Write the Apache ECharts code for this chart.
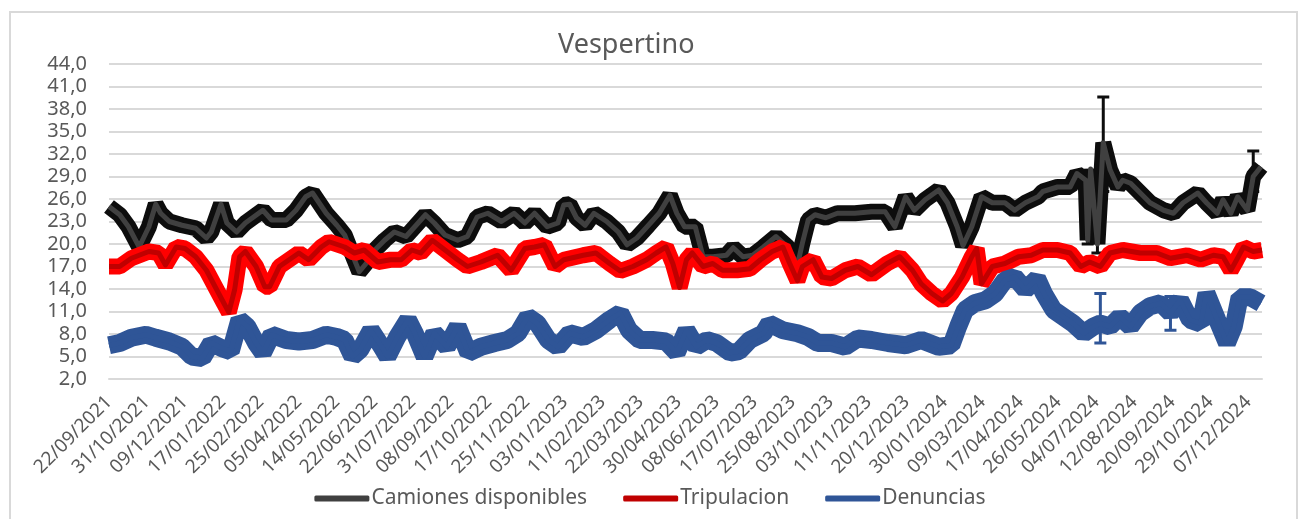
<!DOCTYPE html>
<html>
<head>
<meta charset="utf-8">
<title>Vespertino</title>
<script src="https://cdn.jsdelivr.net/npm/echarts@6/dist/echarts.min.js"></script>
<style>
  html, body { margin: 0; padding: 0; background: #fff; }
  #main { width: 1300px; height: 519px; }
</style>
</head>
<body>
<div id="main"></div>
<script>
var option;

// etiquetas del eje X (una cada 39 dias)
var tickLabels = ['22/09/2021', '31/10/2021', '09/12/2021', '17/01/2022', '25/02/2022', '05/04/2022',
    '14/05/2022', '22/06/2022', '31/07/2022', '08/09/2022', '17/10/2022', '25/11/2022', '03/01/2023',
    '11/02/2023', '22/03/2023', '30/04/2023', '08/06/2023', '17/07/2023', '25/08/2023', '03/10/2023',
    '11/11/2023', '20/12/2023', '30/01/2024', '09/03/2024', '17/04/2024', '26/05/2024', '04/07/2024',
    '12/08/2024', '20/09/2024', '29/10/2024', '07/12/2024'];
var lastDay = 1184;

// [dia, valor]
var camiones = [[0,25.0],[11,23.9],[20,22.3],[31,19.6],[41,22.3],[48,25.3],[53,24.1],[62,23.0],[75,22.5],
    [89,22.1],[100,20.8],[105,21.6],[115,25.3],[121,22.8],[131,21.6],[140,22.8],[158,24.5],[167,23.2],
    [182,23.2],[192,24.5],[202,26.3],[209,26.8],[223,24.1],[234,22.5],[242,21.2],[252,17.9],[257,16.3],
    [264,17.4],[273,19.2],[283,20.5],[293,21.6],[305,21.0],[314,22.3],[325,23.9],[334,22.8],[345,21.2],
    [358,20.5],[368,21.0],[378,23.6],[389,24.1],[403,23.0],[416,24.1],[427,22.8],[437,24.1],[450,22.3],
    [461,22.8],[467,25.2],[473,25.3],[480,23.5],[489,22.5],[498,24.1],[511,23.0],[523,21.6],[532,19.9],
    [542,20.8],[554,22.5],[565,24.1],[576,26.5],[583,24.1],[591,22.3],[602,22.3],[610,18.3],[620,18.3],
    [634,18.5],[641,19.5],[651,18.3],[661,18.5],[672,19.6],[685,21.0],[697,19.6],[707,17.2],[712,20.1],
    [718,23.2],[725,23.9],[736,23.5],[748,24.1],[766,24.1],[783,24.3],[797,24.3],[807,22.3],[818,26.3],
    [827,24.5],[838,25.9],[852,27.2],[861,25.5],[871,22.3],[877,19.8],[886,22.3],[896,26.3],[907,25.5],
    [920,25.5],[930,24.5],[941,25.5],[954,26.3],[959,27.0],[974,27.6],[987,27.6],[994,29.4],[1003,28.5],
    [1005,20.5],[1008,30.0],[1015,20.0],[1021,33.5],[1028,29.9],[1036,27.6],[1041,28.5],[1049,28.1],
    [1059,26.8],[1069,25.5],[1083,24.5],[1093,24.1],[1103,25.5],[1118,26.8],[1127,25.5],[1138,24.1],
    [1144,25.9],[1152,24.1],[1159,26.3],[1169,24.5],[1175,29.0],[1183,30.3]];

var tripulacion = [[0,17.0],[11,17.0],[23,18.1],[41,19.0],[51,18.8],[58,17.2],[69,19.6],[78,19.4],
    [89,18.3],[100,16.5],[109,14.3],[118,12.1],[123,10.9],[129,13.9],[134,18.3],[140,19.0],[151,17.0],
    [160,14.3],[165,14.3],[175,17.0],[185,17.9],[195,18.8],[205,17.9],[218,19.6],[226,20.3],[242,19.6],
    [252,18.8],[262,19.2],[276,17.6],[289,17.9],[300,17.9],[311,19.2],[320,18.8],[332,20.5],[345,19.2],
    [358,17.9],[368,17.0],[382,17.6],[399,18.5],[413,16.5],[427,19.4],[437,19.6],[447,19.9],[458,17.0],
    [467,17.9],[487,18.5],[500,18.8],[514,17.4],[525,16.4],[538,17.0],[552,17.9],[562,18.8],[572,19.6],
    [579,17.4],[586,14.2],[593,17.9],[599,18.8],[610,17.0],[620,17.4],[630,16.5],[645,16.5],[658,16.7],
    [669,17.9],[681,19.0],[692,19.6],[699,17.4],[707,15.1],[712,17.0],[723,17.9],[732,15.6],[742,15.4],
    [756,16.5],[769,17.0],[783,15.9],[799,17.4],[812,18.3],[825,16.5],[834,14.7],[845,13.4],[856,12.4],
    [865,13.4],[876,15.6],[886,18.3],[891,19.4],[896,14.7],[907,17.0],[920,17.4],[934,18.3],[947,18.5],
    [959,19.2],[974,19.2],[987,18.8],[998,17.0],[1007,17.6],[1018,17.0],[1028,18.8],[1041,19.2],
    [1059,18.8],[1076,18.8],[1090,18.1],[1107,18.5],[1121,17.9],[1134,18.5],[1144,18.3],[1152,16.5],
    [1158,17.9],[1165,19.6],[1175,19.0],[1184,19.2]];

var denuncias = [[0,6.5],[11,6.8],[23,7.5],[38,7.9],[48,7.5],[62,7.0],[75,6.3],[85,5.0],[96,4.8],
    [105,6.8],[116,6.1],[125,5.7],[134,9.9],[142,9.0],[151,6.8],[158,5.5],[167,7.9],[182,7.2],[195,7.0],
    [209,7.2],[223,7.9],[234,7.6],[242,7.2],[250,5.0],[258,5.9],[269,8.5],[280,6.3],[286,5.0],[296,7.6],
    [307,9.9],[314,8.1],[324,5.0],[334,8.1],[347,6.3],[358,9.0],[369,5.5],[382,6.3],[396,6.8],[409,7.2],
    [420,8.1],[430,10.3],[440,9.4],[451,7.2],[461,6.3],[473,8.1],[487,7.6],[500,8.5],[514,9.9],[525,10.8],
    [534,8.5],[545,7.2],[558,7.2],[572,7.0],[583,5.5],[593,8.5],[603,6.3],[614,7.2],[624,6.8],[638,5.5],
    [647,5.7],[658,7.2],[672,8.1],[678,9.4],[692,8.5],[707,8.1],[718,7.6],[728,6.8],[742,6.8],[756,6.3],
    [769,7.4],[783,7.2],[800,6.8],[818,6.5],[834,7.2],[852,6.3],[865,6.5],[872,9.0],[879,11.2],[889,12.1],
    [900,12.5],[910,13.4],[920,15.2],[930,15.6],[941,13.9],[953,15.4],[960,13.4],[970,11.2],[980,10.3],
    [990,9.4],[1001,8.1],[1011,9.0],[1018,9.4],[1028,9.0],[1038,10.3],[1049,9.0],[1059,10.8],[1069,11.7],
    [1080,12.1],[1090,10.8],[1100,12.5],[1110,9.9],[1121,9.4],[1127,13.4],[1138,9.9],[1148,6.8],[1155,9.0],
    [1161,12.9],[1172,12.9],[1183,12.1]];

// barras de error que sobresalen de la banda: [dia, minimo, maximo]
var camionesErrBig = [[1005,20.0,29.0],[1015,18.8,27.0],[1021,27.0,39.6],[1175,27.0,32.4]];
var denunciasErrBig = [[1018,6.8,13.4],[1090,8.5,13.0]];

var names = ['Camiones disponibles', 'Tripulacion', 'Denuncias'];
var lineColors = ['#404040', '#C00000', '#2F5597'];
var barColors = ['#0D0D0D', '#FF0000', '#2F5597'];

var chartDom = document.getElementById('main');
var myChart = echarts.init(chartDom, null, {renderer: 'canvas'});

function band(data, color, width) {
    return {
        type: 'line',
        name: '_band',
        data: data,
        showSymbol: false,
        silent: true,
        lineStyle: {color: color, width: width, join: 'bevel', cap: 'butt'}
    };
}

function mainLine(name, data, color) {
    return {
        type: 'line',
        name: name,
        data: data,
        showSymbol: false,
        color: color,
        lineStyle: {color: color, width: 5, join: 'round'}
    };
}

function errBars(data, color) {
    return {
        type: 'custom',
        silent: true,
        data: data,
        encode: {x: 0, y: [1, 2]},
        renderItem: function (params, api) {
            var lo = api.coord([api.value(0), api.value(1)]);
            var hi = api.coord([api.value(0), api.value(2)]);
            var st = {stroke: color, lineWidth: 3};
            return {
                type: 'group',
                children: [
                    {type: 'line', shape: {x1: lo[0], y1: lo[1], x2: hi[0], y2: hi[1]}, style: st},
                    {type: 'line', shape: {x1: lo[0] - 6, y1: lo[1], x2: lo[0] + 6, y2: lo[1]}, style: st},
                    {type: 'line', shape: {x1: hi[0] - 6, y1: hi[1], x2: hi[0] + 6, y2: hi[1]}, style: st}
                ]
            };
        }
    };
}

option = {
    animation: false,
    backgroundColor: '#fff',
    textStyle: {fontFamily: 'Noto Sans'},
    title: {
        text: 'Vespertino',
        left: 553,
        top: 27,
        textStyle: {fontFamily: 'Noto Sans', fontSize: 27, fontWeight: 'normal', color: '#595959'}
    },
    graphic: [{
        type: 'rect',
        shape: {x: 10, y: 12, width: 1287, height: 520},
        style: {fill: 'none', stroke: '#D9D9D9', lineWidth: 2},
        silent: true
    }],
    legend: {
        data: names,
        bottom: 5,
        left: 'center',
        icon: 'roundRect',
        itemWidth: 55,
        itemHeight: 6,
        itemGap: 36,
        textStyle: {fontFamily: 'Noto Sans', fontSize: 21, color: '#595959', padding: [0, 0, 0, -3]}
    },
    grid: {left: 109, right: 38, top: 64, bottom: 140, containLabel: false},
    xAxis: {
        type: 'value',
        min: 0,
        max: lastDay,
        interval: 39,
        splitLine: {show: false},
        axisTick: {show: false},
        axisLine: {show: true, lineStyle: {color: '#D9D9D9', width: 2}},
        axisLabel: {
            rotate: 45,
            margin: 20,
            showMaxLabel: false,
            fontFamily: 'Noto Sans',
            fontSize: 19,
            color: '#595959',
            formatter: function (v) {
                var i = v / 39;
                return (Number.isInteger(i) && i < tickLabels.length) ? tickLabels[i] : '';
            }
        }
    },
    yAxis: {
        type: 'value',
        min: 2,
        max: 44,
        interval: 3,
        axisLine: {show: false},
        axisTick: {show: false},
        splitLine: {lineStyle: {color: '#D9D9D9', width: 2}},
        axisLabel: {
            margin: 22,
            fontFamily: 'Noto Sans',
            fontSize: 20,
            color: '#595959',
            formatter: function (v) {
                return v.toFixed(1).replace('.', ',');
            }
        }
    },
    series: [
        band(camiones, barColors[0], 16),
        errBars(camionesErrBig, barColors[0]),
        mainLine(names[0], camiones, lineColors[0]),
        band(tripulacion, barColors[1], 16),
        mainLine(names[1], tripulacion, lineColors[1]),
        band(denuncias, barColors[2], 18),
        errBars(denunciasErrBig, barColors[2]),
        mainLine(names[2], denuncias, lineColors[2])
    ]
};

option && myChart.setOption(option);
</script>
</body>
</html>
